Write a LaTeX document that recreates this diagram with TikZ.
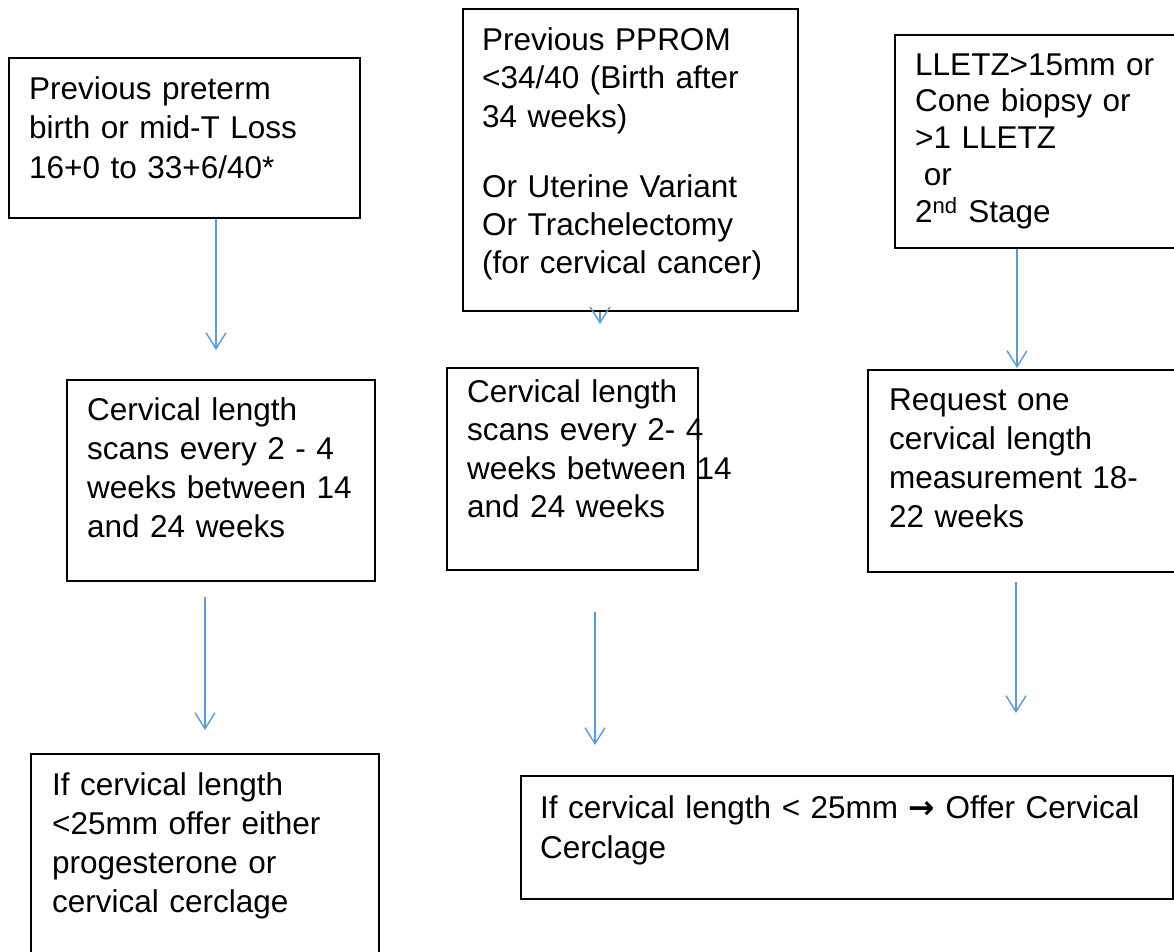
\documentclass[tikz,border=0pt]{standalone}
\usepackage{fontspec}
\setmainfont{Liberation Sans}
\newfontfamily\symfont{DejaVu Sans}
\usetikzlibrary{arrows.meta}
\definecolor{arrowblue}{RGB}{91,155,213}
\newcommand{\fsz}[1]{\fontsize{31.5}{#1}\selectfont}
\begin{document}
\begin{tikzpicture}[x=1pt,y=-1pt,
  box/.style={draw=black, line width=1.8pt, anchor=north west, inner sep=0pt, fill=none},
  txt/.style={anchor=base west, align=left, inner sep=0pt, text width=400pt},
  arr/.style={draw=arrowblue, line width=1.4pt, -{Straight Barb[length=16pt,width=20pt,line width=1.4pt]}}]
\useasboundingbox[fill=white] (0,0) rectangle (1174,951);
% boxes
\node[box, minimum width=351pt, minimum height=160pt] (A) at (8,57) {};
\node[box, minimum width=335pt, minimum height=302pt] (B) at (462,8) {};
\node[box, minimum width=300pt, minimum height=213pt] (C) at (894,34) {};
\node[box, minimum width=308pt, minimum height=201pt] (D) at (66,379) {};
\node[box, minimum width=251pt, minimum height=202pt] (E) at (446,367) {};
\node[box, minimum width=320pt, minimum height=202pt] (F) at (867,369) {};
\node[box, minimum width=348pt, minimum height=230pt] (G) at (30,753) {};
\node[box, minimum width=652pt, minimum height=123pt] (H) at (520,775) {};
% texts
\node[txt, font=\fsz{39.7}] (tA) at (29,99) {Previous preterm\\birth or mid-T Loss\\16+0 to 33+6/40*};
\node[txt, font=\fsz{38.8}] (tB1) at (482,50) {Previous PPROM\\<34/40 (Birth after\\34 weeks)};
\node[txt, font=\fsz{38.2}] (tB2) at (482,197) {Or Uterine Variant\\Or Trachelectomy\\(for cervical cancer)};
\node[txt, font=\fsz{36.8}] (tC) at (915,75) {LLETZ>15mm or\\Cone biopsy or\\>1 LLETZ\\\hspace*{0.278em}or\\2\textsuperscript{nd} Stage};
\node[txt, font=\fsz{39}] (tD) at (87,420) {Cervical length\\scans every 2 - 4\\weeks between 14\\and 24 weeks};
\node[txt, font=\fsz{38.5}] (tE) at (467,402) {Cervical length\\scans every 2- 4\\weeks between 14\\and 24 weeks};
\node[txt, font=\fsz{39}] (tF) at (889,410) {Request one\\cervical length\\measurement 18-\\22 weeks};
\node[txt, font=\fsz{39.3}] (tG) at (52,795) {If cervical length\\<25mm offer either\\progesterone or\\cervical cerclage};
\node[txt, font=\fsz{40}, text width=640pt] (tH) at (540,818) {If cervical length < 25mm {\symfont\bfseries →} Offer Cervical\\Cerclage};
% arrow ends
\coordinate (eA) at (216,350);
\coordinate (eB) at (600,324);
\coordinate (eC) at (1017,368);
\coordinate (sD) at (205,597);
\coordinate (eD) at (205,730);
\coordinate (sE) at (595,612);
\coordinate (eE) at (595,745);
\coordinate (sF) at (1016,582);
\coordinate (eF) at (1016,713);
\draw[arr] (A.south -| eA) -- (eA);
\draw[arr] (B.south -| eB) -- (eB);
\draw[arr] (C.south -| eC) -- (eC);
\draw[arr] (sD) -- (eD);
\draw[arr] (sE) -- (eE);
\draw[arr] (sF) -- (eF);
\end{tikzpicture}
\end{document}
